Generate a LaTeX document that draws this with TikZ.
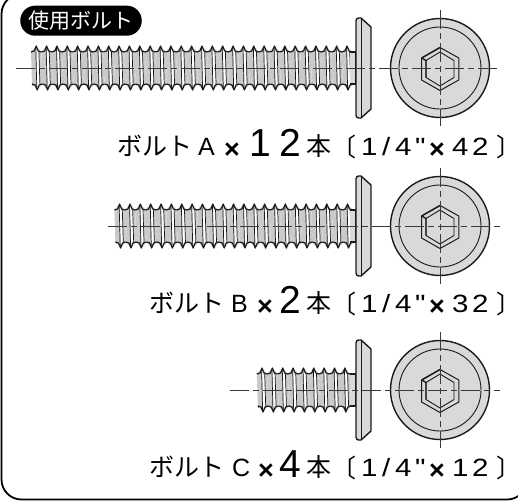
\documentclass[tikz,border=0pt]{standalone}
\usepackage{fontspec}
\setmainfont{Liberation Sans}
\newfontfamily\jpfont{Noto Sans CJK JP}
\newfontfamily\digitfont[FakeStretch=1.18]{Liberation Sans}
\usetikzlibrary{positioning}
\definecolor{boltColor}{HTML}{D9D9D9}
\definecolor{threadColor}{HTML}{CACACA}
\definecolor{inkColor}{HTML}{1A1A1A}
\definecolor{axisColor}{HTML}{3A3A3A}

% one bolt seen from the side and from the head: first crest, last crest index, centre height
\newcommand{\boltview}[4]{%
  \begin{scope}[yshift=-#3pt]
    \draw [threadEnd] (#1-3.2,-17) -- (#1-3.2,17);
    \foreach \k in {0,...,#2} {
      \pgfmathsetmacro{\cx}{#1+10.36*\k}
      \fill [threadColor] (\cx-5.2,-16) -- (\cx,-22) -- (\cx+5.2,-16) -- (\cx+6.2,16) -- (\cx+1,22) -- (\cx-4.2,16) -- cycle;
      \fill [white] (\cx+0.1,-19) -- (\cx+2.5,-16) -- (\cx+3.5,16) -- (\cx+1.1,19) -- cycle;
      \draw [threadStripe] (\cx-0.4,-20) -- (\cx+0.6,20);
      \draw [threadStripe] (\cx+2.7,-16) -- (\cx+3.7,16);
      \draw [threadEdge] (\cx-5.2,-16) -- (\cx-2,-17) -- (\cx,-22) -- (\cx+2,-17) -- (\cx+5.2,-16);
      \draw [threadEdge] (\cx-4.2,16) -- (\cx-1,17) -- (\cx+1,22) -- (\cx+3,17) -- (\cx+6.2,16);
    }
    % shank and head
    \draw [threadEdge,fill=boltColor] (350,-16) -- (356,-16) -- (356,16) -- (350,16);
    \draw [headEdge,fill=boltColor] (356,-47) to[out=90,in=180] (358.5,-50) -- (361,-50)
      -- (371,-41) -- (371,41) -- (361,50) -- (358.5,50) to[out=180,in=-90] (356,47) -- cycle;
    \draw [headEdge] (361.5,-50) -- (361.5,50);
    % end view
    \draw [headEdge,fill=boltColor] (440,0) circle (49.5);
    \draw [inkColor,line width=0.9pt] (440,0) circle (41);
    \draw [inkColor,line width=1pt,line join=round] (440,-20.5) -- (458.8,-10) -- (458.8,12) -- (440,22.5)
      -- (421.6,12) -- (421.6,-10) -- cycle;
    \draw [inkColor,line width=0.9pt,line join=round] (440,-16) -- (454,-7.5) -- (454,9.5) -- (440,18)
      -- (426,9.5) -- (426,-7.5) -- cycle;
    \draw [inkColor,line width=1.4pt] (421.6,-10) -- (426,-7.5) -- (426,9.5) (421.6,-10) -- (440,-20.5);
    % centre lines
    \draw [axisLine] (#4,0) -- (500,0);
    \draw [axisLine] (440,-58) -- (440,58);
  \end{scope}
}
% one text line: letters start, middle start, letter, big number, tail digits, baseline
\newcommand{\boltlabel}[7]{%
  \node (word#3) [legend,at={(#1,#7)}] {\jpfont ボルト};
  \node (letter#3) [legend,at={(#2,#7)}] {#3};
  \node (times#3) [timesMark,at={(#2+26,#7+3)}] {×};
  #4
  \node (hon#3) [legend,at={(306,#7)}] {\jpfont 本};
  \node (open#3) [legend,at={(331,#7+1)}] {\jpfont 〔};
  \node (sizeOne#3) [sizeDigit,at={(361,#7)}] {1};
  \node (slash#3) [sizeDigit,at={(382,#7)}] {/};
  \node (sizeFour#3) [sizeDigit,at={(395,#7)}] {4};
  \node (inch#3) [sizeDigit,at={(415,#7)}] {"};
  \node (timesTail#3) [timesMark,at={(429,#7+3)}] {×};
  \node (tens#3) [sizeDigit,at={(452,#7)}] {#5};
  \node (units#3) [sizeDigit,at={(472,#7)}] {#6};
  \node (close#3) [legend,at={(496,#7+1)}] {\jpfont 〕};
}

\begin{document}
\begin{tikzpicture}[x=1pt,y=-1pt,
    threadEdge/.style={inkColor,line width=1.2pt,line join=round},
    threadEnd/.style={inkColor,line width=1.2pt,line cap=round},
    threadStripe/.style={inkColor,line width=0.7pt},
    headEdge/.style={inkColor,line width=1.4pt,line join=round},
    axisLine/.style={axisColor,line width=0.8pt,dash pattern=on 19pt off 4pt on 6pt off 4pt},
    legend/.style={anchor=base west,inner sep=0pt,font=\fontsize{25}{27}\selectfont},
    sizeDigit/.style={anchor=base west,inner sep=0pt,font=\digitfont\fontsize{25}{27}\selectfont},
    timesMark/.style={anchor=base west,inner sep=0pt,font=\bfseries\fontsize{27}{27}\selectfont},
    number/.style={anchor=base west,inner sep=0pt,font=\fontsize{39}{42}\selectfont}]
    \useasboundingbox (0,0) rectangle (518,501);
    \clip (0,0) rectangle (518,501);
    % frame and title
    \draw [black,line width=1.8pt,rounded corners=20pt] (1.5,-6) rectangle (527,499.5);
    \node (title) [fill=black,text=white,rounded corners=14.9pt,minimum width=121.5pt,minimum height=30pt,
      inner sep=0pt,font=\jpfont\fontsize{21}{24}\selectfont] at (81,20.7) {使用ボルト};
    % bolts
    \boltview{36.2}{30}{68}{16}
    \boltview{119.6}{22}{226}{108}
    \boltview{262}{8}{390}{230}
    % text lines
    \boltlabel{117}{198}{A}{\node (bigA1) [number,at={(249,156.5)}] {1}; \node (bigA2) [number,at={(279,156.5)}] {2};}{4}{2}{155}
    \boltlabel{149}{231}{B}{\node (bigB) [number,at={(279,313)}] {2};}{3}{2}{312}
    \boltlabel{149}{232}{C}{\node (bigC) [number,at={(279,477)}] {4};}{1}{2}{476}
\end{tikzpicture}
\end{document}
